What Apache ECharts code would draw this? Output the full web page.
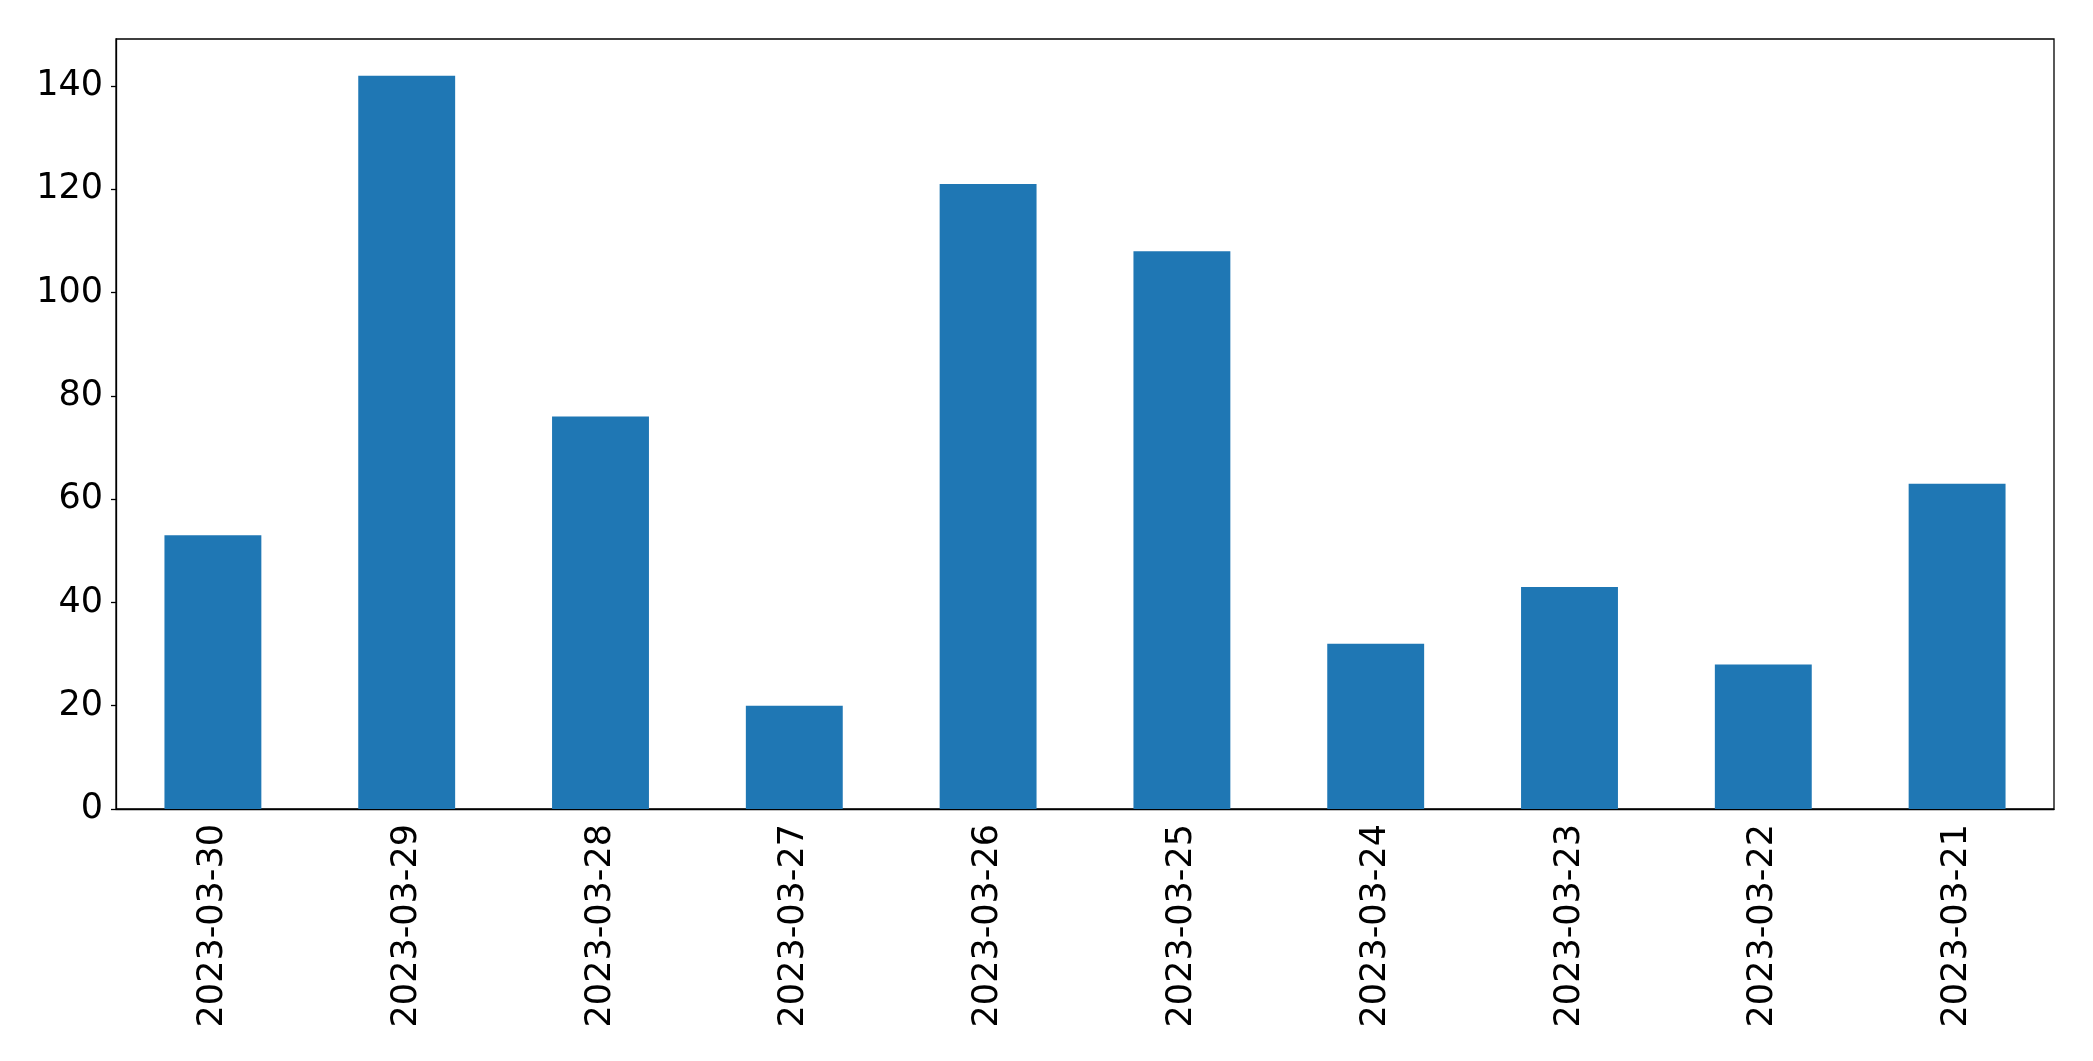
<!DOCTYPE html>
<html>
<head>
<meta charset="utf-8">
<script src="https://cdn.jsdelivr.net/npm/echarts@6/dist/echarts.min.js"></script>
<style>html,body{margin:0;padding:0;background:#fff;}#c{width:2093px;height:1061px;}</style>
</head>
<body>
<div id="c"></div>
<script>
const categories = ['2023-03-30','2023-03-29','2023-03-28','2023-03-27','2023-03-26','2023-03-25','2023-03-24','2023-03-23','2023-03-22','2023-03-21'];
const values = [53, 142, 76, 20, 121, 108, 32, 43, 28, 63];
const yTicks = [0, 20, 40, 60, 80, 100, 120, 140];

const chart = echarts.init(document.getElementById('c'), null, {renderer: 'canvas'});
const font = 'DejaVu Sans';
chart.setOption({
  animation: false,
  backgroundColor: '#fff',
  grid: {left: 116, top: 39, right: 39, bottom: 252, show: true, borderColor: '#000', borderWidth: 1.3, containLabel: false},
  xAxis: {
    type: 'category',
    data: categories,
    axisLine: {lineStyle: {color: '#000', width: 1.3}},
    axisTick: {alignWithLabel: true, length: 5, lineStyle: {color: '#000', width: 1.3}},
    axisLabel: {rotate: 90, margin: 15, color: '#000', fontSize: 35, fontFamily: font, interval: 0}
  },
  yAxis: {
    type: 'value',
    min: 0,
    max: 149.1,
    interval: 20,
    splitLine: {show: false},
    axisLine: {show: true, lineStyle: {color: '#000', width: 1.3}},
    axisTick: {show: true, length: 5, lineStyle: {color: '#000', width: 1.3}},
    axisLabel: {showMaxLabel: false, margin: 13, color: '#000', fontSize: 35, fontFamily: font,
      formatter: v => yTicks.includes(v) ? String(v) : ''}
  },
  series: [{
    type: 'bar',
    data: values,
    barWidth: '50%',
    itemStyle: {color: '#1f77b4'}
  }]
});
</script>
</body>
</html>
